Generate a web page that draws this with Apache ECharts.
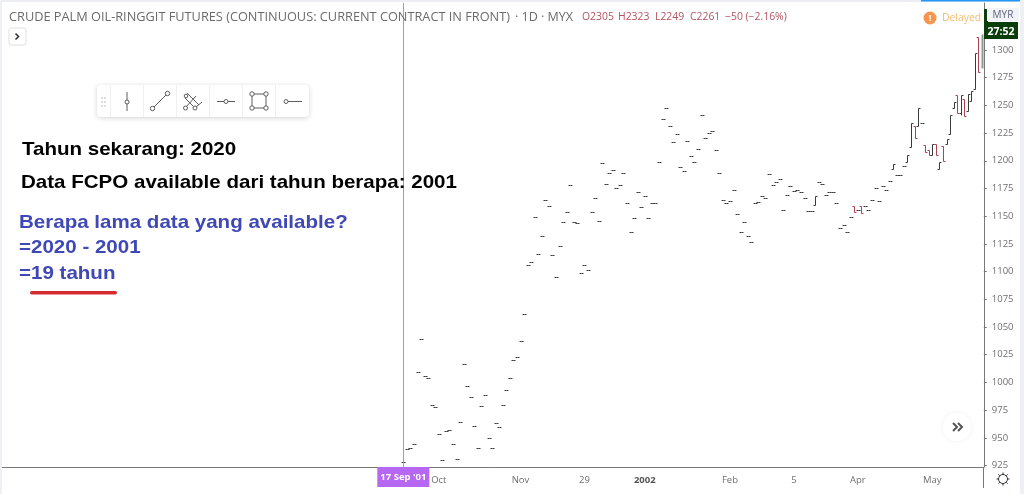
<!DOCTYPE html>
<html>
<head>
<meta charset="utf-8">
<style>html,body{margin:0;padding:0;background:#fff}#c{width:1024px;height:494px}</style>
<script src="https://cdn.jsdelivr.net/npm/echarts@6/dist/echarts.min.js"></script>
</head>
<body>
<div id="c"></div>
<script>
// Daily bars, one entry per trading day from 17 Sep 2001
const opens = [928,940,941,944,1009,1039,1006,1004,980,978,953,930,956,957,944,931,964,1017,997,987,961,941,979,989,950,941,963,960,980,993,1004,1020,1023,1037,1062,1106,1109,1149,1116,1132,1165,1159,1115,1095,1123,1145,1154,1178,1145,1144,1099,1106,1101,1154,1166,1146,1198,1179,1189,1192,1175,1178,1189,1162,1136,1148,1172,1158,1168,1148,1162,1162,1199,1238,1248,1231,1217,1224,1194,1191,1218,1204,1199,1211,1241,1221,1225,1227,1210,1189,1165,1162,1164,1174,1152,1136,1145,1132,1127,1162,1163,1168,1166,1188,1178,1181,1184,1156,1169,1177,1173,1174,1172,1166,1155,1155,1160,1181,1179,1169,1172,1172,1162,1139,1142,1136,1149,1159,1156,1159,1159,1156,1165,1175,1164,1177,1174,1182,1193,1187,1187,1195,1199,1212,1231,1231,1234,1214,1210,1205,1215,1193,1213,1215,1224,1248,1259,1243,1256,1245,1254,1265,1312,1284];
const highs = [928,940,941,944,1009,1039,1006,1004,980,978,953,930,956,957,944,931,964,1017,997,987,961,941,979,989,950,941,963,960,980,993,1004,1020,1023,1037,1062,1106,1109,1149,1116,1132,1165,1159,1115,1095,1123,1145,1154,1178,1145,1144,1099,1106,1101,1154,1166,1146,1198,1179,1189,1192,1175,1178,1189,1162,1136,1148,1172,1158,1168,1148,1162,1162,1199,1238,1248,1231,1217,1224,1194,1191,1218,1204,1199,1211,1241,1221,1225,1227,1210,1189,1165,1162,1164,1174,1152,1136,1145,1132,1127,1162,1163,1168,1166,1188,1178,1181,1184,1156,1169,1177,1173,1174,1172,1166,1155,1155,1168,1181,1179,1169,1172,1172,1162,1139,1142,1136,1149,1159,1156,1159,1159,1156,1165,1175,1164,1177,1174,1182,1197,1187,1187,1195,1205,1234,1231,1248,1234,1214,1210,1215,1215,1199,1213,1220,1241,1253,1259,1259,1256,1260,1263,1297,1312,1314];
const lows = [928,940,941,944,1009,1039,1006,1004,980,978,953,930,956,957,944,931,964,1017,997,987,961,941,979,989,950,941,963,960,980,993,1004,1020,1023,1037,1062,1106,1109,1149,1116,1132,1165,1159,1115,1095,1123,1145,1154,1178,1145,1144,1099,1106,1101,1154,1166,1146,1198,1179,1189,1192,1175,1178,1189,1162,1136,1148,1172,1158,1168,1148,1162,1162,1199,1238,1248,1231,1217,1224,1194,1191,1218,1204,1199,1211,1241,1221,1225,1227,1210,1189,1165,1162,1164,1174,1152,1136,1145,1132,1127,1162,1163,1168,1166,1188,1178,1181,1184,1156,1169,1177,1173,1174,1172,1166,1155,1155,1160,1181,1179,1169,1172,1172,1162,1139,1142,1136,1149,1154,1156,1153,1159,1156,1165,1175,1164,1177,1174,1182,1193,1187,1187,1195,1199,1212,1221,1231,1234,1208,1205,1205,1205,1193,1200,1215,1224,1248,1243,1241,1240,1245,1254,1265,1280,1284];
const closes = [928,940,941,944,1009,1039,1006,1004,980,978,953,930,956,957,944,931,964,1017,997,987,961,941,979,989,950,941,963,960,980,993,1004,1020,1023,1037,1062,1106,1109,1149,1116,1132,1165,1159,1115,1095,1123,1145,1154,1178,1145,1144,1099,1106,1101,1154,1166,1146,1198,1179,1189,1192,1175,1178,1189,1162,1136,1148,1172,1158,1168,1148,1162,1162,1199,1238,1248,1231,1217,1224,1194,1191,1218,1204,1199,1211,1241,1221,1225,1227,1210,1189,1165,1162,1164,1174,1152,1136,1145,1132,1127,1162,1163,1168,1166,1188,1178,1181,1184,1156,1169,1177,1173,1174,1172,1166,1155,1155,1168,1181,1179,1169,1172,1172,1162,1139,1142,1136,1149,1154,1156,1153,1159,1156,1165,1175,1164,1177,1174,1182,1197,1187,1187,1195,1205,1234,1221,1248,1234,1208,1205,1215,1205,1199,1200,1220,1241,1253,1243,1259,1240,1260,1263,1297,1280,1314];
const leadSlots = 113;
const tickBars = [10,33,51,68,92,110,128,149];
const tickLabels = ['Oct','Nov','29','2002','Feb','5','Apr','May'];
const priceTicks = [925,950,975,1000,1025,1050,1075,1100,1125,1150,1175,1200,1225,1250,1275,1300];
const crosshairLabel = "17 Sep '01";
const titleText = 'CRUDE PALM OIL-RINGGIT FUTURES (CONTINUOUS: CURRENT CONTRACT IN FRONT)';
const headerItems = ['O2305','H2323','L2249','C2261','\u221250 (\u22122.16%)'];

const total = leadSlots + opens.length;
const categories = [];
for (let i = 0; i < total; i++) {
  const k = tickBars.indexOf(i - leadSlots);
  categories.push(k >= 0 ? tickLabels[k] : '');
}
const barData = opens.map((o, i) => [i + leadSlots, o, highs[i], lows[i], closes[i]]);
const hasTick = i => tickBars.indexOf(i - leadSlots) >= 0;

function renderBar(params, api) {
  const i = api.value(0), o = api.value(1), h = api.value(2), l = api.value(3), c = api.value(4);
  const x = Math.round(api.coord([i, o])[0]) + 0.5;
  const sy = v => Math.round(api.coord([i, v])[1]) + 0.5;
  const last = i === total - 1;
  const col = last ? '#8c9a8c' : (c < o ? '#b2404f' : '#3a3a3a');
  const ln = (x1, y1, x2, y2) => ({type: 'line', shape: {x1, y1, x2, y2}, style: {stroke: col, lineWidth: last ? 2 : 1}});
  const kids = [ln(x - 2, sy(o), x, sy(o)), ln(x, sy(c), x + 2, sy(c))];
  if (h !== l) kids.push(ln(x, sy(h), x, sy(l)));
  if (last) kids.length = 1, kids[0] = ln(x, sy(h), x, sy(l));
  return {type: 'group', children: kids};
}

// page furniture
const T = (x, y, text, fill, font, align) => ({type: 'text', z: 20, style: {x, y, text, fill, font, align: align || 'left', verticalAlign: 'middle'}});
const W = (x, y, text, fill) => ({type: 'text', z: 20, x, y, scaleX: 1.11, style: {x: 0, y: 0, text, fill, font: 'bold 18.5px "Liberation Sans"', align: 'left', verticalAlign: 'middle'}});
const R = (x, y, w, h, fill, extra) => Object.assign({type: 'rect', z: 15, shape: {x, y, width: w, height: h, r: (extra && extra.r) || 0}, style: Object.assign({fill}, (extra && extra.style) || {})});
const L = (x1, y1, x2, y2, stroke, w) => ({type: 'line', z: 19, shape: {x1, y1, x2, y2}, style: {stroke, lineWidth: w || 1}});
const C = (cx, cy, r, stroke, fill) => ({type: 'circle', z: 19, shape: {cx, cy, r}, style: {stroke, fill: fill || '#fff', lineWidth: 1}});
const P = (points, stroke, w) => ({type: 'polyline', z: 19, shape: {points}, style: {stroke, lineWidth: w || 1, fill: 'none'}});

const ink = '#5d5d5d';
const furniture = [
  R(0, 0, 1024, 2, '#eceef2'), R(921, 0, 100, 1.5, '#2196f3'),
  R(0, 0, 2, 494, '#eef0f3'), R(1020, 0, 4, 494, '#eef0f3'),
  T(9, 17, titleText, '#6b6b6b', '12.75px "Open Sans"'),
  T(515, 17, '\u00b7 1D \u00b7 MYX', '#6b6b6b', '12.5px "Open Sans"'),
  T(582, 17, headerItems[0], '#b5515f', '10.4px "Open Sans"'),
  T(618, 17, headerItems[1], '#b5515f', '10.4px "Open Sans"'),
  T(655, 17, headerItems[2], '#b5515f', '10.4px "Open Sans"'),
  T(690, 17, headerItems[3], '#b5515f', '10.4px "Open Sans"'),
  T(725, 17, headerItems[4], '#b5515f', '10.4px "Open Sans"'),
  {type: 'circle', z: 19, shape: {cx: 930, cy: 18, r: 6.5}, style: {fill: '#f6964e'}},
  T(930, 18, '!', '#fff', 'bold 9px "Open Sans"', 'center'),
  T(942, 18, 'Delayed', '#f1bb72', '10.4px "Open Sans"'),
  R(984, 9, 4, 14, '#0b3d0b'), R(984, 22, 34, 17, '#0b3d0b'),
  R(987, 8, 32, 13, '#f1f3f8'), T(1003, 15, 'MYR', '#5d6578', '10px "Open Sans"', 'center'),
  T(1001, 32, '27:52', '#fff', 'bold 10.5px "Open Sans"', 'center'),
  R(9, 28, 17, 17, '#fff', {r: 2, style: {stroke: '#e0e0e0', lineWidth: 1}}),
  P([[15.5, 33.5], [18.5, 36.5], [15.5, 39.5]], '#333', 1.5),
  // toolbar
  R(97, 85, 212, 32, '#fff', {r: 4, style: {shadowBlur: 5, shadowColor: 'rgba(0,0,0,0.18)', shadowOffsetY: 1}}),
  ...[110, 143, 176, 209, 242, 275].map(x => L(x + 0.5, 85, x + 0.5, 117, '#f0f0f0')),
  ...[98, 102, 106].flatMap(y => [R(101, y - 1, 2, 2, '#ddd'), R(104, y - 1, 2, 2, '#ddd')]).map(o => Object.assign(o, {z: 19})),
  L(127, 92, 127, 111, ink), C(127, 102, 2, ink),
  L(153, 108, 167, 94, ink), C(152.5, 108.5, 2.2, ink), C(167.5, 93.5, 2.2, ink),
  L(185, 98, 195, 108, ink), L(187, 93, 199, 105, ink), L(186, 107, 196, 96, ink), L(196, 107, 202, 102, ink),
  C(185.5, 108, 2, ink), C(195, 108, 2, ink), C(186, 96, 1.8, ink),
  L(217, 101.5, 235, 101.5, ink), C(226, 101.5, 2, ink),
  L(252, 94, 266, 94, ink), L(252, 108, 266, 108, ink), L(252, 94, 252, 108, ink), L(266, 94, 266, 108, ink),
  C(252, 94, 2.2, ink), C(266, 94, 2.2, ink), C(252, 108, 2.2, ink), C(266, 108, 2.2, ink),
  C(286, 101.5, 2, ink), L(288, 101.5, 302, 101.5, ink),
  // annotations
  W(22, 150, 'Tahun sekarang: 2020', '#000'),
  W(21, 183, 'Data FCPO available dari tahun berapa: 2001', '#000'),
  W(19, 223, 'Berapa lama data yang available?', '#3f48b5'),
  W(19, 248, '=2020 - 2001', '#3f48b5'),
  W(19, 274, '=19 tahun', '#3f48b5'),
  R(30, 291, 87, 3.5, '#d42a30', {r: 1.7}),
  // scroll button
  {type: 'circle', z: 18, shape: {cx: 957, cy: 427, r: 14}, style: {fill: '#fff', shadowBlur: 6, shadowColor: 'rgba(0,0,0,0.05)'}},
  P([[953, 423], [957, 427], [953, 431]], '#555', 2), P([[958, 423], [962, 427], [958, 431]], '#555', 2),
  // lower right corner
  R(984, 468, 36, 26, '#fff'),
  L(983.5, 467, 983.5, 488, '#777'),
  C(1003, 479, 4.5, '#333'),
  ...[0, 1, 2, 3, 4, 5, 6, 7].map(k => {
    const a = k * Math.PI / 4;
    return L(1003 + 4.5 * Math.cos(a), 479 + 4.5 * Math.sin(a), 1003 + 6.5 * Math.cos(a), 479 + 6.5 * Math.sin(a), '#333');
  })
];

const chart = echarts.init(document.getElementById('c'), null, {renderer: 'canvas'});
chart.setOption({
  animation: false,
  backgroundColor: '#fff',
  grid: {left: 0.4, right: 40.2, top: 3, height: 464},
  xAxis: {
    type: 'category',
    data: categories,
    boundaryGap: true,
    axisLine: {lineStyle: {color: '#777', width: 1}},
    axisTick: {alignWithLabel: true, length: 3, interval: hasTick, lineStyle: {color: '#777'}},
    axisLabel: {
      interval: hasTick, margin: 8, color: '#6f6f6f', fontSize: 9.5, fontFamily: 'Open Sans',
      hideOverlap: false,
      formatter: v => v === '2002' ? '{b|2002}' : v,
      rich: {b: {fontWeight: 'bold', color: '#555', fontSize: 9.5, fontFamily: 'Open Sans'}}
    },
    splitLine: {show: false}
  },
  yAxis: {
    type: 'value', position: 'right', min: 923.65, max: 1342.4, scale: true,
    axisLine: {show: true, lineStyle: {color: '#777', width: 1}},
    axisTick: {show: true, length: 3, customValues: priceTicks, lineStyle: {color: '#777'}},
    axisLabel: {
      color: '#6f6f6f', fontSize: 9.5, fontFamily: 'Open Sans', margin: 8, customValues: priceTicks,
      formatter: v => String(v), verticalAlignMinLabel: 'middle', verticalAlign: 'middle', padding: [2, 0, 0, 0]
    },
    splitLine: {show: false}
  },
  series: [{
    type: 'custom',
    renderItem: renderBar,
    data: barData,
    encode: {x: 0, y: [1, 2, 3, 4]},
    clip: false,
    silent: true,
    markLine: {
      silent: true, symbol: 'none', animation: false,
      lineStyle: {color: '#a29ab8', width: 1, type: 'solid'},
      label: {
        show: true, position: 'start', distance: 0, formatter: crosshairLabel,
        color: '#fff', backgroundColor: '#b768f2', padding: [5, 3, 5, 3], fontSize: 9.5, fontFamily: 'Open Sans', fontWeight: 'bold'
      },
      data: [{xAxis: leadSlots}]
    }
  }],
  graphic: furniture
});
</script>
</body>
</html>
